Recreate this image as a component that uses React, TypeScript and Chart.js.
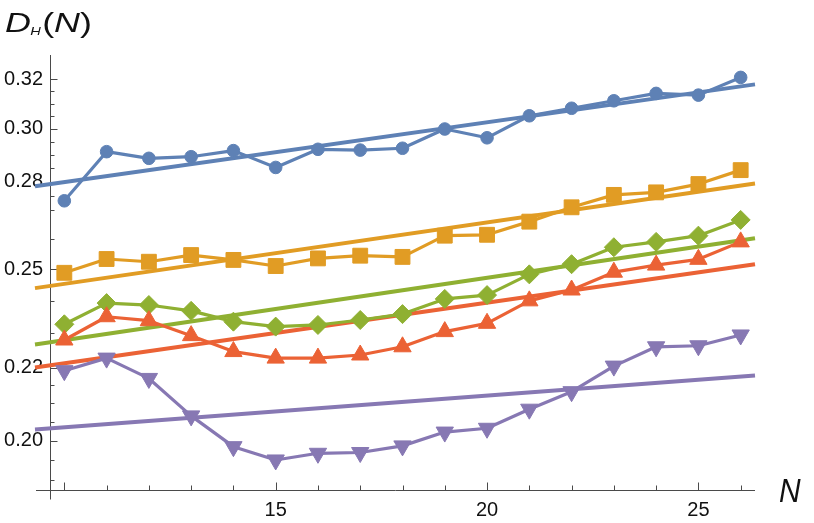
import React, { useEffect, useRef } from 'react';
import { Chart, registerables } from 'chart.js';

Chart.register(...registerables);

// ---- data ----
const N = [10, 11, 12, 13, 14, 15, 16, 17, 18, 19, 20, 21, 22, 23, 24, 25, 26];
const blueCircles = [0.2732, 0.2912, 0.2887, 0.2893, 0.2916, 0.2853, 0.2921, 0.2918, 0.2925, 0.2999, 0.2965, 0.3051, 0.3081, 0.3111, 0.3141, 0.3134, 0.3207];
const orangeSquares = [0.2488, 0.2533, 0.2524, 0.2546, 0.2530, 0.2510, 0.2535, 0.2544, 0.2540, 0.2611, 0.2614, 0.2659, 0.2709, 0.2753, 0.2762, 0.2792, 0.2843];
const greenDiamonds = [0.2327, 0.2392, 0.2386, 0.2368, 0.2335, 0.2320, 0.2325, 0.2340, 0.2358, 0.2405, 0.2417, 0.2483, 0.2516, 0.2572, 0.2590, 0.2611, 0.2665];
const redTriangles = [0.2280, 0.2350, 0.2338, 0.2293, 0.2246, 0.2227, 0.2227, 0.2236, 0.2260, 0.2305, 0.2330, 0.2399, 0.2433, 0.2490, 0.2513, 0.2532, 0.2590];
const purpleTriangles = [0.2191, 0.2227, 0.2169, 0.2066, 0.1985, 0.1951, 0.1968, 0.1970, 0.1987, 0.2023, 0.2033, 0.2084, 0.2132, 0.2204, 0.2260, 0.2263, 0.2295];

// axis ranges (the vertical axis sits at X_MIN)
const X_MIN = 9.661;
const X_MAX = 26.339;
const Y_MIN = 0.18739;
const Y_MAX = 0.33017;

// fitted lines: values at the two ends of the drawn fit segment
const fitN = [9.306, 26.339];
const blueFit = [0.2784, 0.3178];
const orangeFit = [0.2439, 0.2794];
const greenFit = [0.2267, 0.2602];
const redFit = [0.2200, 0.2516];
const purpleFit = [0.2030, 0.2177];

// ticks
const yMajor = [0.20, 0.22, 0.25, 0.28, 0.30, 0.32];
const yMinor = [0.19, 0.195, 0.205, 0.21, 0.215, 0.23, 0.24, 0.26, 0.27, 0.275, 0.285, 0.29, 0.295, 0.305, 0.31, 0.315];
const xLabeled = [15, 20, 25];
const xMajor = [10, 15, 20, 25];
const xMinor = [11, 12, 13, 14, 16, 17, 18, 19, 21, 22, 23, 24, 26];

const COLORS = {
  blue: '#5E81B5',
  orange: '#E19C24',
  green: '#8FB032',
  red: '#EB6235',
  purple: '#8778B3',
};
const AXIS_COLOR = '#4a4a4a';
const FONT = '"Liberation Sans", Arial, sans-serif';

function pts(xs: number[], ys: number[]) {
  return xs.map((x, i) => ({ x, y: ys[i] }));
}

export default function App() {
  const ref = useRef<HTMLCanvasElement>(null);

  useEffect(() => {
    const canvas = ref.current;
    if (!canvas) return;

    const axesPlugin = {
      id: 'mmaAxes',
      beforeDatasetsDraw(chart: any) {
        const { ctx, chartArea, scales } = chart;
        const xs = scales.x;
        const ys = scales.y;
        const ax = Math.round(chartArea.left) + 0.5;
        const ay = Math.round(chartArea.bottom) - 0.5;
        ctx.save();
        ctx.strokeStyle = AXIS_COLOR;
        ctx.lineWidth = 1;
        ctx.beginPath();
        // x axis
        ctx.moveTo(chartArea.left - 14, ay);
        ctx.lineTo(chartArea.right, ay);
        // y axis
        ctx.moveTo(ax, chartArea.top);
        ctx.lineTo(ax, ay + 9);
        // y ticks
        yMajor.forEach((v) => {
          const p = Math.round(ys.getPixelForValue(v)) + 0.5;
          ctx.moveTo(ax, p);
          ctx.lineTo(ax + 7, p);
        });
        yMinor.forEach((v) => {
          const p = Math.round(ys.getPixelForValue(v)) + 0.5;
          ctx.moveTo(ax, p);
          ctx.lineTo(ax + 4, p);
        });
        // x ticks
        xMajor.forEach((v) => {
          const p = Math.round(xs.getPixelForValue(v)) + 0.5;
          ctx.moveTo(p, ay);
          ctx.lineTo(p, ay - 8);
        });
        xMinor.forEach((v) => {
          const p = Math.round(xs.getPixelForValue(v)) + 0.5;
          ctx.moveTo(p, ay);
          ctx.lineTo(p, ay - 5);
        });
        ctx.stroke();
        ctx.restore();
      },
      afterDraw(chart: any) {
        const { ctx } = chart;
        ctx.save();
        ctx.fillStyle = '#111';
        ctx.textBaseline = 'alphabetic';
        ctx.textAlign = 'left';
        // title D_H(N)
        ctx.translate(5, 32);
        ctx.scale(1.33, 1);
        ctx.font = `italic 27px ${FONT}`;
        ctx.fillText('D', 0, 0);
        let x = ctx.measureText('D').width;
        ctx.font = `italic 11px ${FONT}`;
        ctx.fillText('H', x - 0.5, 2.5);
        x += ctx.measureText('H').width + 0.5;
        ctx.font = `27px ${FONT}`;
        ctx.fillText('(', x, 0);
        x += ctx.measureText('(').width;
        ctx.font = `italic 27px ${FONT}`;
        ctx.fillText('N', x, 0);
        x += ctx.measureText('N').width;
        ctx.font = `27px ${FONT}`;
        ctx.fillText(')', x, 0);
        ctx.restore();

        // x axis label N
        ctx.save();
        ctx.fillStyle = '#111';
        ctx.textBaseline = 'alphabetic';
        ctx.textAlign = 'left';
        ctx.translate(779, 502);
        ctx.scale(0.88, 1);
        ctx.font = `italic 34px ${FONT}`;
        ctx.fillText('N', 0, 0);
        ctx.restore();
      },
    };

    const dataLine = (label: string, ys: number[], color: string, style: any, radius: number, order: number, rotation = 0) => ({
      label,
      data: pts(N, ys),
      borderColor: color,
      backgroundColor: color,
      borderWidth: 3.2,
      pointStyle: style,
      pointRadius: radius,
      pointRotation: rotation,
      pointBorderWidth: 1,
      pointBorderColor: color,
      pointBackgroundColor: color,
      borderJoinStyle: 'round' as const,
      tension: 0,
      order,
      clip: false as any,
    });
    const fitLine = (label: string, ys: number[], color: string, order: number) => ({
      label,
      data: pts(fitN, ys),
      borderColor: color,
      backgroundColor: color,
      borderWidth: 4,
      pointRadius: 0,
      tension: 0,
      order,
      clip: false as any,
    });

    const chart = new Chart(canvas, {
      type: 'line',
      data: {
        datasets: [
          dataLine('purple', purpleTriangles, COLORS.purple, 'triangle', 10, 0, 180),
          dataLine('red', redTriangles, COLORS.red, 'triangle', 10, 1),
          dataLine('green', greenDiamonds, COLORS.green, 'rectRot', 9.5, 2),
          dataLine('orange', orangeSquares, COLORS.orange, 'rect', 10.5, 3),
          dataLine('blue', blueCircles, COLORS.blue, 'circle', 6.3, 4),
          fitLine('purple fit', purpleFit, COLORS.purple, 5),
          fitLine('red fit', redFit, COLORS.red, 6),
          fitLine('green fit', greenFit, COLORS.green, 7),
          fitLine('orange fit', orangeFit, COLORS.orange, 8),
          fitLine('blue fit', blueFit, COLORS.blue, 9),
        ],
      },
      options: {
        animation: false,
        responsive: false,
        devicePixelRatio: 1,
        layout: { padding: { top: 55, right: 59, left: 0, bottom: 0 } },
        plugins: {
          legend: { display: false },
          tooltip: { enabled: false },
          title: { display: false },
        },
        events: [],
        scales: {
          x: {
            type: 'linear',
            min: X_MIN,
            max: X_MAX,
            grid: { display: false, drawTicks: false },
            border: { display: false },
            afterBuildTicks: (scale: any) => {
              scale.ticks = xLabeled.map((v) => ({ value: v }));
            },
            afterFit: (scale: any) => {
              scale.height = 32;
            },
            ticks: {
              autoSkip: false,
              maxRotation: 0,
              padding: 7,
              color: '#111',
              font: { family: FONT, size: 20 },
              callback: (v: any) => String(v),
            },
          },
          y: {
            type: 'logarithmic',
            min: Y_MIN,
            max: Y_MAX,
            grid: { display: false, drawTicks: false },
            border: { display: false },
            afterBuildTicks: (scale: any) => {
              scale.ticks = yMajor.map((v) => ({ value: v }));
            },
            afterFit: (scale: any) => {
              scale.width = 50;
            },
            ticks: {
              autoSkip: false,
              padding: 7,
              color: '#111',
              font: { family: FONT, size: 20 },
              callback: (v: any) => Number(v).toFixed(2),
            },
          },
        },
      },
      plugins: [axesPlugin],
    } as any);

    return () => chart.destroy();
  }, []);

  return (
    <div style={{ position: 'fixed', left: 0, top: 0, width: 814, height: 523, background: '#fff' }}>
      <canvas ref={ref} width={814} height={523} style={{ width: 814, height: 523, display: 'block' }} />
    </div>
  );
}
